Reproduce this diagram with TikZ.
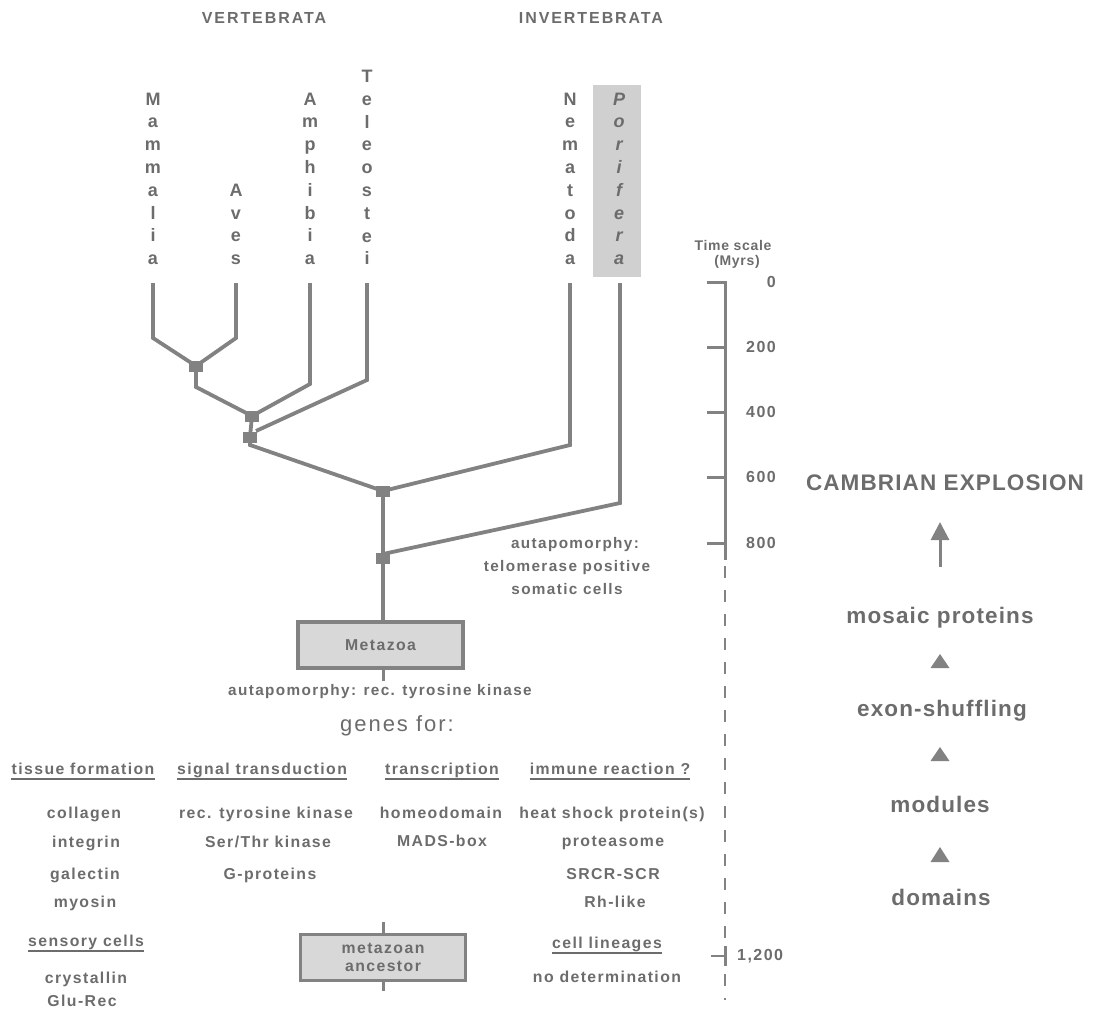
\documentclass[tikz,border=0pt]{standalone}
\usepackage{fontspec}
\setmainfont{Liberation Sans}[LetterSpace=9]
\newfontfamily\rightf{Liberation Sans}[LetterSpace=5]
\newfontfamily\headf{Liberation Sans}[LetterSpace=12]
\newfontfamily\letf{Liberation Sans}
\usetikzlibrary{arrows.meta}
\definecolor{lg}{RGB}{130,130,130}
\definecolor{tg}{RGB}{108,108,108}
\definecolor{bf}{RGB}{216,216,216}
\definecolor{pf}{RGB}{208,208,208}
\begin{document}
\begin{tikzpicture}[x=1pt,y=-1pt,
  branch/.style={draw=lg, line width=3.8pt, line join=miter},
  junc/.style={fill=lg, minimum width=14pt, minimum height=11pt, inner sep=0pt},
  taxon/.style={text=tg, font=\letf\bfseries\fontsize{18}{22.8}\selectfont, align=center, inner sep=0pt, anchor=south},
  head/.style={text=tg, font=\headf\bfseries\fontsize{16}{18}\selectfont, inner sep=0pt, anchor=base},
  lbl/.style={text=tg, font=\bfseries\fontsize{15.8}{18}\selectfont, inner sep=0pt, anchor=base},
  small/.style={text=tg, font=\bfseries\fontsize{15.3}{18}\selectfont, inner sep=0pt, anchor=base},
  big/.style={text=tg, font=\rightf\bfseries\fontsize{22.5}{26}\selectfont, inner sep=0pt, anchor=base},
  num/.style={text=tg, font=\bfseries\fontsize{16}{18}\selectfont, inner sep=0pt},
  ts/.style={text=tg, font=\rightf\bfseries\fontsize{14}{16}\selectfont, inner sep=0pt},
  boxs/.style={draw=lg, fill=bf, line width=3.5pt, minimum width=165pt, minimum height=46pt, inner sep=0pt, text=tg, align=center, font=\bfseries\fontsize{15.8}{18}\selectfont},
  ul/.style={draw=tg, line width=1.2pt},
  axis/.style={draw=lg, line width=3pt},
  tri/.style={fill=lg}
]
\useasboundingbox (0,0) rectangle (1097,1012);

% group headings
\node[head] (vert) at (264,23) {VERTEBRATA};
\node[head] (invert) at (591,23) {INVERTEBRATA};

% taxa
\fill[pf] (593,85) rectangle (641,277);
\node[taxon] (mam) at (153,265) {M\\a\\m\\m\\a\\l\\i\\a};
\node[taxon] (ave) at (236,265) {A\\v\\e\\s};
\node[taxon] (amp) at (310,265) {A\\m\\p\\h\\i\\b\\i\\a};
\node[taxon] (tel) at (367,265) {T\\e\\l\\e\\o\\s\\t\\e\\i};
\node[taxon] (nem) at (570,265) {N\\e\\m\\a\\t\\o\\d\\a};
\node[taxon, font=\letf\bfseries\itshape\fontsize{18}{22.8}\selectfont] (por) at (619,265) {P\\o\\r\\i\\f\\e\\r\\a};

% tips
\coordinate (tmam) at (153,283);
\coordinate (tave) at (236,283);
\coordinate (tamp) at (310,283);
\coordinate (ttel) at (367,283);
\coordinate (tnem) at (570,283);
\coordinate (tpor) at (620,283);

% junctions
\node[junc] (j1) at (196,366) {};
\node[junc] (j2) at (252,416) {};
\node[junc] (j3) at (250,437) {};
\node[junc] (j4) at (383,491) {};
\node[junc] (j5) at (383,558) {};

% Metazoa box
\node[boxs] (meta) at (380.5,645) {Metazoa};

% branches
\draw[branch] (tmam) -- (153,338) -- (j1.center);
\draw[branch] (tave) -- (236,338) -- (j1.center);
\draw[branch] (j1.center) -- (196,387) -- (j2.center);
\draw[branch] (tamp) -- (310,384) -- (j2.center);
\draw[branch] (j2.center) -- (j3.center);
\draw[branch] (ttel) -- (367,380) -- (256,431);
\draw[branch] (j3.center) -- (250,445) -- (j4.center);
\draw[branch] (tnem) -- (570,445) -- (j4.center);
\draw[branch] (j4.center) -- (j5.center);
\draw[branch] (tpor) -- (620,503) -- (383,554);
\draw[branch] (j5.center) -- (j5.center |- meta.north);
\draw[branch, line width=3pt] (j5.center |- meta.south) -- ++(0,11);

% autapomorphy telomerase
\node[small] (aut1) at (575,548) {autapomorphy:};
\node[small] (aut2) at (567,571) {telomerase positive};
\node[small] (aut3) at (567,594) {somatic cells};

\node[small] (autrtk) at (380,695) {autapomorphy: rec. tyrosine kinase};
\node[text=tg, font=\fontsize{22}{26}\selectfont, inner sep=0pt, anchor=base] (genes) at (397,731) {genes for:};

% column headers
\node[lbl] (h1) at (83,774) {tissue formation};
\node[lbl] (h2) at (262,774) {signal transduction};
\node[lbl] (h3) at (442,774) {transcription};
\node[lbl] (h4) at (610,774) {immune reaction ?};
\foreach \n in {h1,h2,h3,h4}{
  \draw[ul] ([yshift=-5pt]\n.base west) -- ([yshift=-5pt]\n.base east);
}

% column entries
\node[lbl] (c11) at (84,818) {collagen};
\node[lbl] (c12) at (86,847) {integrin};
\node[lbl] (c13) at (85,879) {galectin};
\node[lbl] (c14) at (85,907) {myosin};
\node[lbl] (c21) at (266,818) {rec. tyrosine kinase};
\node[lbl] (c22) at (268,847) {Ser/Thr kinase};
\node[lbl] (c23) at (270,879) {G-proteins};
\node[lbl] (c31) at (441,818) {homeodomain};
\node[lbl] (c32) at (442,846) {MADS-box};
\node[lbl] (c41) at (612,818) {heat shock protein(s)};
\node[lbl] (c42) at (613,846) {proteasome};
\node[lbl] (c43) at (613,879) {SRCR-SCR};
\node[lbl] (c44) at (615,907) {Rh-like};

\node[lbl] (sens) at (86,946) {sensory cells};
\draw[ul] ([yshift=-5pt]sens.base west) -- ([yshift=-5pt]sens.base east);
\node[lbl] (cry) at (86,983) {crystallin};
\node[lbl] (glu) at (82,1006) {Glu-Rec};

\node[lbl] (cell) at (607,948) {cell lineages};
\draw[ul] ([yshift=-5pt]cell.base west) -- ([yshift=-5pt]cell.base east);
\node[lbl] (nodet) at (607,982) {no determination};

% metazoan ancestor box
\node[boxs, line width=3pt] (anc) at (383,957) {metazoan\\ancestor};
\draw[branch, line width=3pt] (anc.north) -- ++(0,-11);
\draw[branch, line width=3pt] (anc.south) -- ++(0,9);

% time scale
\node[ts] (tsl) at (733,245) {Time scale};
\node[ts] (myr) at (737,262) {(Myrs)};
\draw[axis] (708,282) -- (725,282) -- (725,560);
\draw[draw=lg, line width=2pt, dash pattern=on 12pt off 12pt] (725,566) -- (725,1000);
\draw[axis] (725,946) -- (725,966);
\foreach \y/\l in {282/0,347/200,412/400,477/600,543/800}{
  \draw[axis] (707,\y) -- (725,\y);
  \node[num, anchor=east] at (776,\y) {\l};
}
\draw[axis, line width=2pt] (711,956) -- (725,956);
\node[num, anchor=west] (n1200) at (737,956) {1,200};

% right column
\node[big] (camb) at (945,490) {CAMBRIAN EXPLOSION};
\node[big] (mosaic) at (940,623) {mosaic proteins};
\node[big] (exon) at (942,716) {exon-shuffling};
\node[big] (modu) at (940,812) {modules};
\node[big] (doma) at (941,905) {domains};
\draw[draw=lg, line width=3pt, -{Triangle[width=18pt,length=18pt]}] (mosaic.north) ++(0,-40) coordinate (arst) (arst) -- (940,522);
\fill[tri] (930.5,668) -- (949.5,668) -- (940,654) -- cycle;
\fill[tri] (930.5,761) -- (949.5,761) -- (940,747) -- cycle;
\fill[tri] (930.5,862) -- (949.5,862) -- (940,847) -- cycle;
\end{tikzpicture}
\end{document}
